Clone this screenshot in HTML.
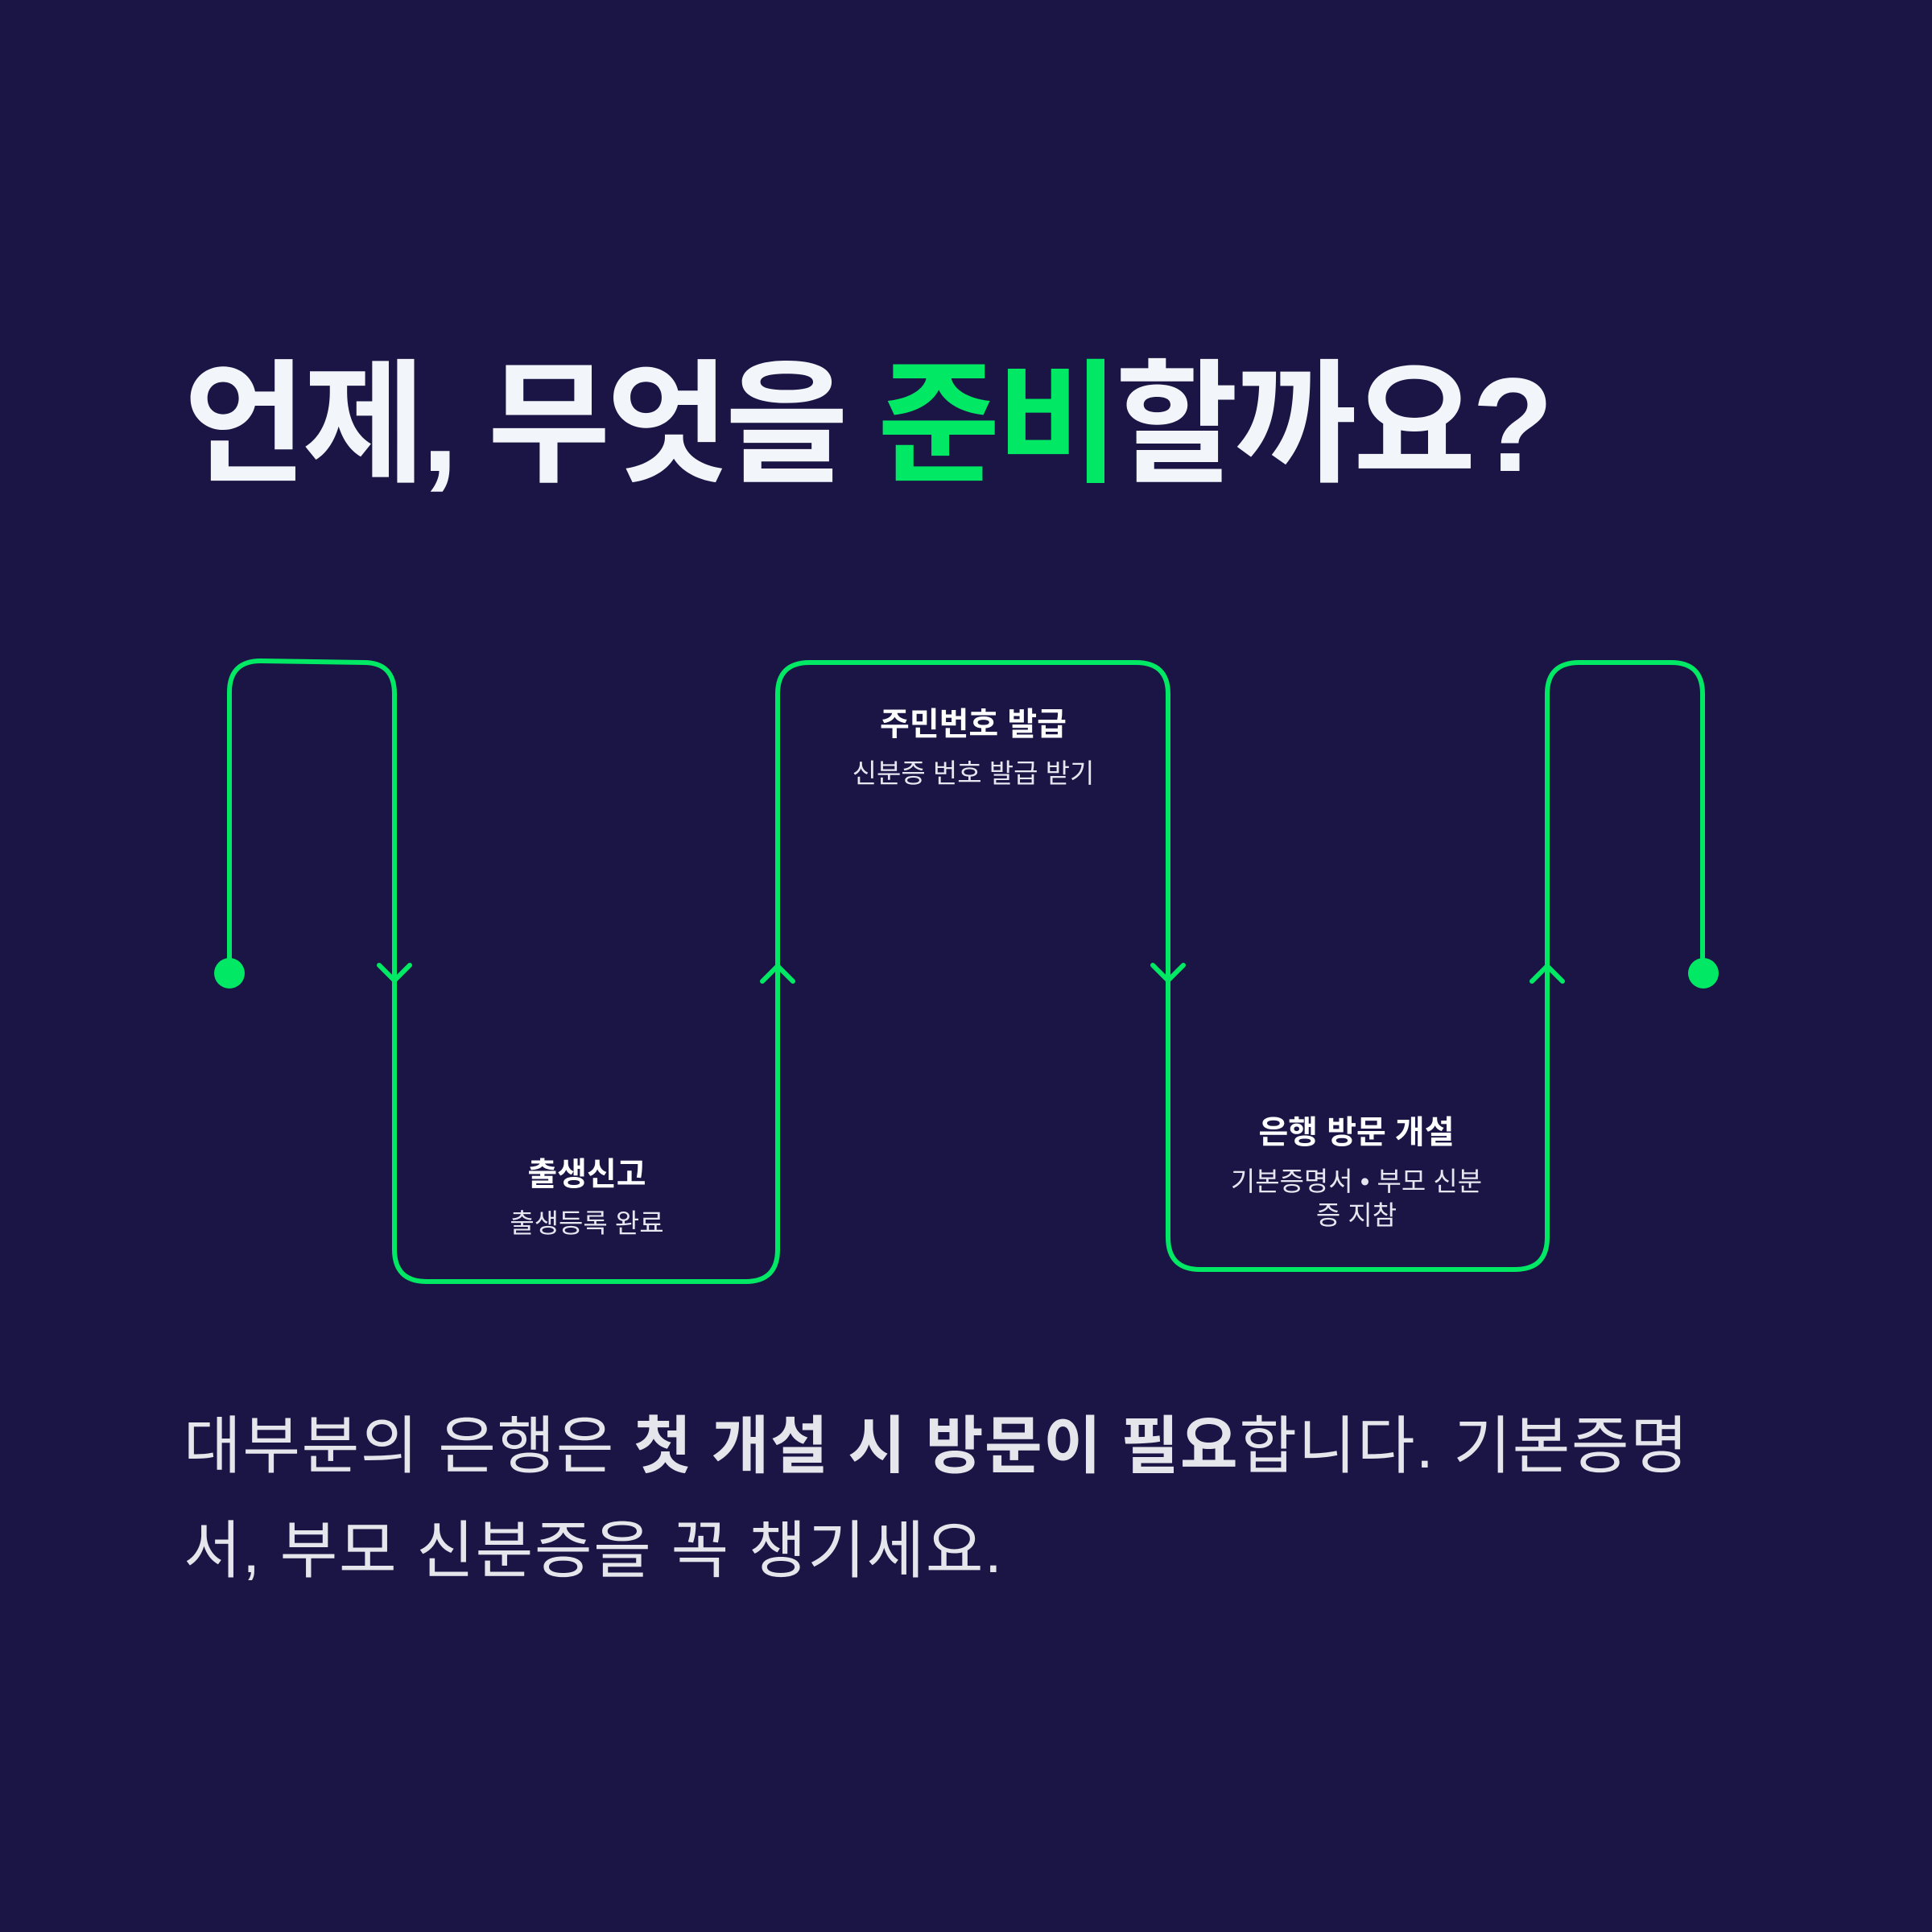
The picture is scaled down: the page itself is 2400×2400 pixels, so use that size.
<!DOCTYPE html>
<html><head><meta charset="utf-8"><style>
body{margin:0;width:2400px;height:2400px;background:#1a1544;overflow:hidden;position:relative;font-family:"Liberation Sans","Noto Sans CJK KR",sans-serif;}
.t{position:absolute;white-space:nowrap;}
.title{left:228px;top:446px;font-size:166px;font-weight:700;color:#f2f6fb;letter-spacing:-5px;line-height:1;}
.g{color:#00e864}
.lb{position:absolute;text-align:center;color:#fff;transform:translateX(-50%);}
.lb b{display:block;font-size:40px;font-weight:700;line-height:1;}
.lb span{display:block;font-size:33px;color:#e6e6f0;line-height:42px;margin-top:20px}
.body{left:228px;top:1731px;font-size:78px;color:#e4e6ec;line-height:130px;letter-spacing:1.5px}
</style></head><body>
<div class="t title">언제, 무엇을 <span class="g">준비</span>할까요?</div>
<svg width="2400" height="2400" style="position:absolute;left:0;top:0">
<g fill="none" stroke="#00e864" stroke-width="6" stroke-linejoin="round" stroke-linecap="round">
<path d="M285 1209 V860 Q285 821 324 821 L452 823 Q490 823 490 862 V1552 Q490 1592 530 1592 H926 Q966 1592 966 1552 V862 Q966 823 1006 823 H1411 Q1451 823 1451 862 V1537 Q1451 1577 1491 1577 H1882 Q1922 1577 1922 1537 V862 Q1922 823 1962 823 H2076 Q2115 823 2115 862 V1209"/>
<path d="M471 1199 L490 1218 L509 1199"/>
<path d="M1432 1199 L1451 1218 L1470 1199"/>
<path d="M947 1219 L966 1200 L985 1219"/>
<path d="M1903 1219 L1922 1200 L1941 1219"/>
</g>
<circle cx="285" cy="1209" r="19" fill="#00e864"/>
<circle cx="2116" cy="1209" r="19" fill="#00e864"/>
</svg>
<div class="lb" style="left:1209px;top:880px"><b>주민번호 발급</b><span>신분증 번호 발급 받기</span></div>
<div class="lb" style="left:729px;top:1439px"><b>출생신고</b><span>출생등록 완료</span></div>
<div class="lb" style="left:1685px;top:1387px;width:330px"><b>은행 방문 개설</b><span>기본증명서 • 부모 신분증 지참</span></div>
<div class="t body">대부분의 은행은 <b>첫 개설 시 방문이 필요</b>합니다. 기본증명<br>서, 부모 신분증을 꼭 챙기세요.</div>
</body></html>
